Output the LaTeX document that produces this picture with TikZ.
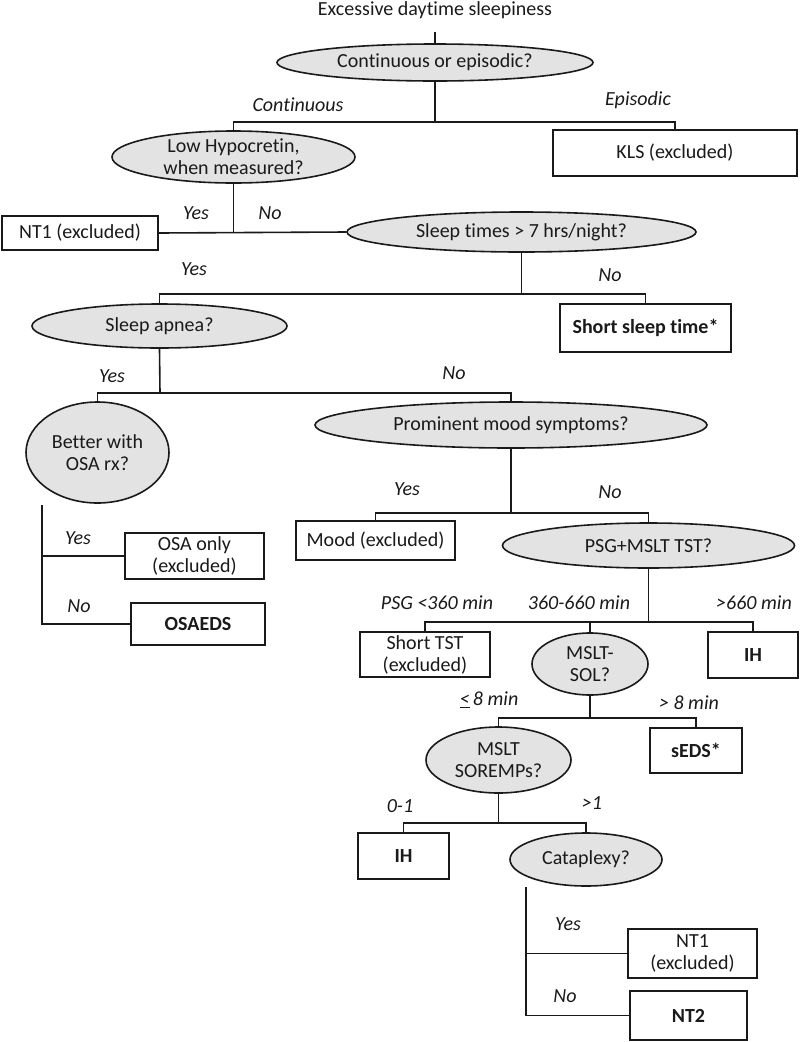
\documentclass[tikz,border=0pt]{standalone}
\usepackage{fontspec}
\setmainfont{Carlito}[Ligatures=NoCommon]
\usepackage{tikz}
\usetikzlibrary{positioning, shapes.geometric}
\definecolor{treeInk}{HTML}{1A1A1A}
\definecolor{questionFill}{HTML}{E3E3E3}

\begin{document}
\begin{tikzpicture}[
    x=1pt, y=-1pt,
    every node/.style={font=\fontsize{20}{22}\selectfont, text=treeInk},
    question/.style={
        ellipse,
        draw=treeInk,
        fill=questionFill,
        line width=1.6pt,
        inner sep=0pt,
        align=center
    },
    outcome/.style={
        rectangle,
        draw=treeInk,
        fill=white,
        line width=1.6pt,
        inner sep=0pt,
        align=center
    },
    final/.style={outcome, line width=2.3pt, font=\fontsize{20}{22}\selectfont\bfseries},
    branch/.style={font=\fontsize{20}{22}\selectfont\itshape},
    link/.style={draw=treeInk, line width=1.6pt}
]

\useasboundingbox (0,0) rectangle (800,1042);

% Start and first split
\node (title) at (435,10) {Excessive daytime sleepiness};
\node[question, minimum width=316pt, minimum height=37pt] (cont) at (435,62.5) {Continuous or episodic?};
\node[question, minimum width=243pt, minimum height=52pt] (hypo) at (233.5,157) {Low Hypocretin,\\when measured?};
\node[outcome, minimum width=244pt, minimum height=46pt] (kls) at (675,153) {KLS (excluded)};

% Hypocretin and sleep time
\node[outcome, minimum width=156pt, minimum height=34pt] (ntone) at (80,233) {NT1 (excluded)};
\node[question, minimum width=349pt, minimum height=40pt] (sleep) at (521.5,232) {Sleep times > 7 hrs/night?};
\node[question, minimum width=255pt, minimum height=44pt] (apnea) at (159.5,326) {Sleep apnea?};
\node[final, minimum width=171pt, minimum height=48pt] (shortsleep) at (645.5,328) {Short sleep time*};

% Apnea and mood
\node[question, minimum width=143pt, minimum height=101pt] (better) at (97.5,452.5) {Better with\\OSA rx?};
\node[question, minimum width=392pt, minimum height=46pt] (mood) at (511,425) {Prominent mood symptoms?};
\node[outcome, minimum width=139pt, minimum height=46pt] (osaonly) at (194.5,556) {OSA only\\(excluded)};
\node[final, minimum width=134pt, minimum height=42pt] (osaeds) at (198,624) {OSAEDS};
\node[outcome, minimum width=159pt, minimum height=39pt] (moodex) at (375.5,540.5) {Mood (excluded)};
\node[question, minimum width=292pt, minimum height=45pt] (psg) at (648.5,545.5) {PSG+MSLT TST?};

% Sleep studies
\node[outcome, minimum width=130pt, minimum height=45pt] (shorttst) at (425,654.5) {Short TST\\(excluded)};
\node[question, minimum width=116pt, minimum height=62pt] (sol) at (590,664) {MSLT-\\SOL?};
\node[final, minimum width=90pt, minimum height=46pt] (ihtop) at (753,655) {IH};
\node[question, minimum width=145pt, minimum height=66pt] (soremp) at (498.5,760) {MSLT\\SOREMPs?};
\node[final, minimum width=92pt, minimum height=45pt] (seds) at (696,750.5) {sEDS*};
\node[final, minimum width=91pt, minimum height=46pt] (ihlow) at (403.5,856) {IH};
\node[question, minimum width=152pt, minimum height=53pt] (cata) at (586,859.5) {Cataplexy?};
\node[outcome, minimum width=129pt, minimum height=49pt] (ntoneb) at (692.5,953.5) {NT1\\(excluded)};
\node[final, minimum width=117pt, minimum height=49pt] (nttwo) at (688.5,1015.5) {NT2};

% Junction points
\coordinate (stemTop) at (435,32);
\coordinate (contBar) at (435,122);
\coordinate (sleepBar) at (521.5,294);
\coordinate (apneaBar) at (160,393);
\coordinate (moodBar) at (511,513);
\coordinate (osaTop) at (42,505);
\coordinate (psgBar) at (648.5,622);
\coordinate (solBar) at (590,718);
\coordinate (sorBar) at (498.5,823);
\coordinate (cataTop) at (526,887);

% Connectors
\draw[link] (stemTop) -- (cont.north);
\draw[link] (cont.south) -- (contBar);
\draw[link] (hypo.north) |- (contBar) -| (kls.north);
\draw[link] (hypo.south) -- (hypo.south |- sleep.west);
\draw[link] (ntone.east) -- (sleep.west);
\draw[link] (sleep.south) -- (sleepBar);
\draw[link] (apnea.north) |- (sleepBar) -| (shortsleep.north);
\draw[link] (apnea.south) -- (apneaBar);
\draw[link] (better.north) |- (apneaBar) -| (mood.north);
\draw[link] (osaTop) |- (osaeds.west);
\draw[link] (osaTop |- osaonly.west) -- (osaonly.west);
\draw[link] (mood.south) -- (moodBar);
\draw[link] (moodex.north) |- (moodBar) -| (psg.north);
\draw[link] (psg.south) -- (psgBar);
\draw[link] (shorttst.north) |- (psgBar) -| (ihtop.north);
\draw[link] (sol.north) -- (sol.north |- psgBar);
\draw[link] (sol.south) -- (solBar);
\draw[link] (soremp.north) |- (solBar) -| (seds.north);
\draw[link] (soremp.south) -- (sorBar);
\draw[link] (ihlow.north) |- (sorBar) -| (cata.north);
\draw[link] (cataTop) |- (nttwo.west);
\draw[link] (cataTop |- ntoneb.west) -- (ntoneb.west);

% Branch labels
\node[branch] (contLbl) at (298,105) {Continuous};
\node[branch] (epiLbl) at (638,100) {Episodic};
\node[branch] (hypoYes) at (196,213) {Yes};
\node[branch] (hypoNo) at (270,213) {No};
\node[branch] (sleepYes) at (194,269) {Yes};
\node[branch] (sleepNo) at (610,275) {No};
\node[branch] (apneaYes) at (112,376) {Yes};
\node[branch] (apneaNo) at (454,373) {No};
\node[branch] (moodYes) at (407,489) {Yes};
\node[branch] (moodNo) at (610,492) {No};
\node[branch] (betterYes) at (78,538) {Yes};
\node[branch] (betterNo) at (79,606) {No};
\node[branch] (psgLow) at (437,603) {PSG <360 min};
\node[branch] (psgMid) at (579,603) {360-660 min};
\node[branch] (psgHigh) at (754,603) {>660 min};
\node[branch] (solLow) at (489,700) {\underline{<}\,8 min};
\node[branch] (solHigh) at (689,703) {> 8 min};
\node[branch] (sorLow) at (400,806) {0-1};
\node[branch] (sorHigh) at (592,803) {>1};
\node[branch] (cataYes) at (568,924) {Yes};
\node[branch] (cataNo) at (565,996) {No};

\end{tikzpicture}
\end{document}
